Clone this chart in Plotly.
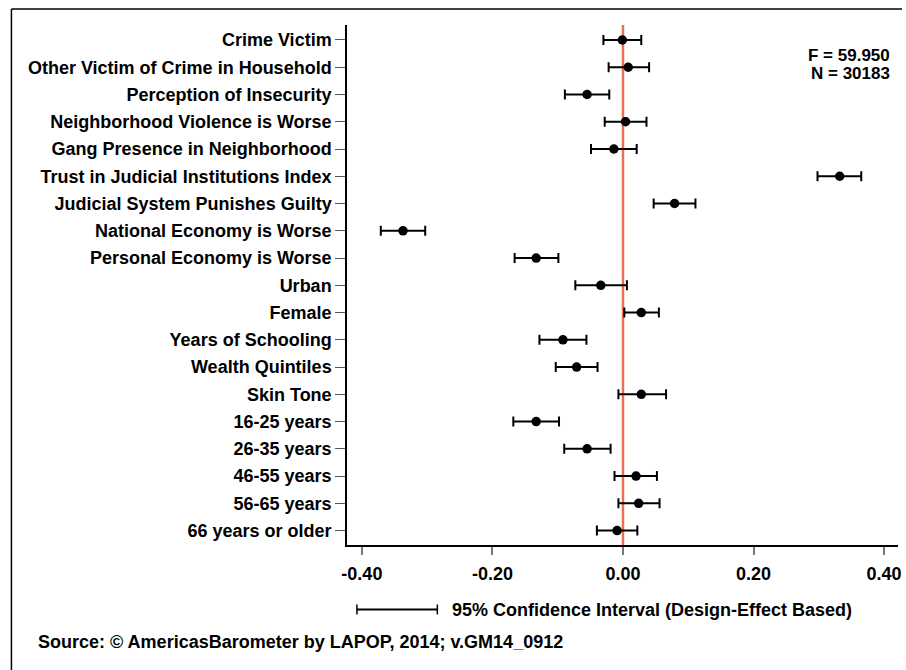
import plotly.graph_objects as go

categories = [
    "Crime Victim",
    "Other Victim of Crime in Household",
    "Perception of Insecurity",
    "Neighborhood Violence is Worse",
    "Gang Presence in Neighborhood",
    "Trust in Judicial Institutions Index",
    "Judicial System Punishes Guilty",
    "National Economy is Worse",
    "Personal Economy is Worse",
    "Urban",
    "Female",
    "Years of Schooling",
    "Wealth Quintiles",
    "Skin Tone",
    "16-25 years",
    "26-35 years",
    "46-55 years",
    "56-65 years",
    "66 years or older",
]
coef = [-0.001, 0.008, -0.055, 0.004, -0.014, 0.332, 0.079, -0.337, -0.133,
        -0.034, 0.028, -0.092, -0.071, 0.028, -0.133, -0.055, 0.020, 0.024, -0.009]
ci_low = [-0.030, -0.022, -0.089, -0.028, -0.049, 0.298, 0.047, -0.371, -0.166,
          -0.073, 0.002, -0.128, -0.103, -0.007, -0.168, -0.090, -0.013, -0.007, -0.040]
ci_high = [0.028, 0.040, -0.021, 0.036, 0.021, 0.365, 0.111, -0.303, -0.099,
           0.006, 0.055, -0.056, -0.039, 0.066, -0.098, -0.019, 0.052, 0.056, 0.022]
x_ticks = [-0.4, -0.2, 0.0, 0.2, 0.4]
x_tick_labels = ["-0.40", "-0.20", "0.00", "0.20", "0.40"]
f_text = "F = 59.950"
n_text = "N = 30183"
legend_text = "95% Confidence Interval (Design-Effect Based)"
source_text = "Source: © AmericasBarometer by LAPOP, 2014; v.GM14_0912"

FONT = "Liberation Sans, Arial, sans-serif"
W, H = 906, 670
L, R, T, B = 347, 4, 25, 125
pw, ph = W - L - R, H - T - B

def px(x):
    return (x - L) / pw

def py(y):
    return (H - B - y) / ph

err_plus = [h - c for h, c in zip(ci_high, coef)]
err_minus = [c - l for c, l in zip(coef, ci_low)]

fig = go.Figure()
fig.add_trace(go.Scatter(
    x=coef, y=categories, mode="markers",
    marker=dict(color="black", size=9.5),
    error_x=dict(type="data", symmetric=False, array=err_plus, arrayminus=err_minus,
                 color="black", thickness=2, width=5),
    showlegend=False, hoverinfo="skip",
))

shapes = [
    dict(type="line", xref="x", yref="paper", x0=0, x1=0, y0=0, y1=1,
         line=dict(color="#EC7150", width=2.5), layer="below"),
    # outer frame: top and left edges
    dict(type="line", xref="paper", yref="paper", x0=px(9), x1=px(906), y0=py(9), y1=py(9),
         line=dict(color="black", width=1.5)),
    dict(type="line", xref="paper", yref="paper", x0=px(9), x1=px(9), y0=py(9), y1=py(670),
         line=dict(color="black", width=1.5)),
    # legend CI sample
    dict(type="line", xref="paper", yref="paper", x0=px(357), x1=px(438), y0=py(609.5), y1=py(609.5),
         line=dict(color="black", width=2)),
    dict(type="line", xref="paper", yref="paper", x0=px(357), x1=px(357), y0=py(604.5), y1=py(614.5),
         line=dict(color="black", width=1.5)),
    dict(type="line", xref="paper", yref="paper", x0=px(438), x1=px(438), y0=py(604.5), y1=py(614.5),
         line=dict(color="black", width=1.5)),
]

annotations = [
    dict(text="<b>" + f_text + "</b>", xref="paper", yref="paper", x=px(896), y=py(55),
         xanchor="right", yanchor="middle", align="right", showarrow=False,
         font=dict(family=FONT, size=17, color="black")),
    dict(text="<b>" + n_text + "</b>", xref="paper", yref="paper", x=px(896), y=py(73),
         xanchor="right", yanchor="middle", align="right", showarrow=False,
         font=dict(family=FONT, size=17, color="black")),
    dict(text="<b>" + legend_text + "</b>", xref="paper", yref="paper", x=px(451), y=py(609.5),
         xanchor="left", yanchor="middle", showarrow=False,
         font=dict(family=FONT, size=18, color="black")),
    dict(text="<b>" + source_text + "</b>", xref="paper", yref="paper", x=px(34), y=py(641.5),
         xanchor="left", yanchor="middle", showarrow=False,
         font=dict(family=FONT, size=18, color="black")),
]

fig.update_layout(
    width=W, height=H,
    margin=dict(l=L, r=R, t=T, b=B, pad=0),
    paper_bgcolor="white", plot_bgcolor="white",
    shapes=shapes, annotations=annotations,
    xaxis=dict(range=[-0.4228, 0.4213], tickvals=x_ticks, ticktext=x_tick_labels,
               showgrid=False, zeroline=False, showline=True, linecolor="black", linewidth=1.5,
               ticks="outside", ticklen=8, tickcolor="#777", tickwidth=1.5,
               tickfont=dict(family=FONT, size=18, color="black", weight="bold"),
               ticklabelstandoff=4),
    yaxis=dict(type="category", categoryarray=categories, categoryorder="array",
               range=[18.53, -0.55], showgrid=False, zeroline=False,
               showline=True, linecolor="black", linewidth=1.5,
               ticks="outside", ticklen=10, tickcolor="#555", tickwidth=1,
               tickfont=dict(family=FONT, size=18, color="black", weight="bold"),
               ticklabelstandoff=0),
)

fig.write_html(
    "out.html",
    config={"displayModeBar": False},
    post_script="document.body.style.margin='0';document.body.style.overflow='hidden';",
)
